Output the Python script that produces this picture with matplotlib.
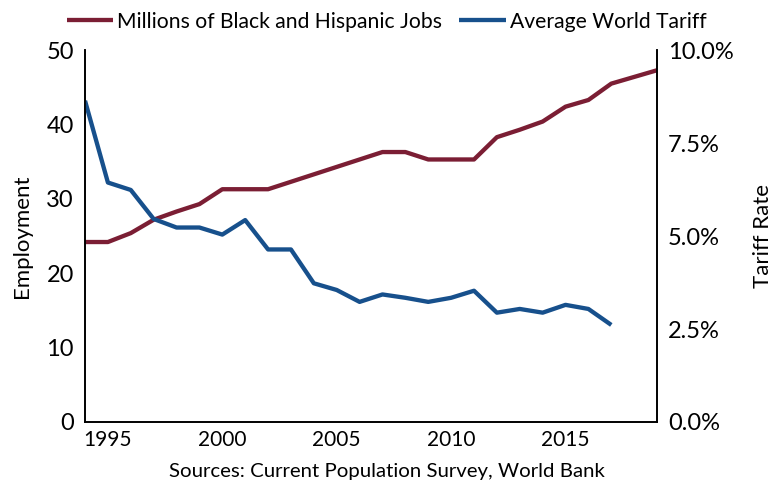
import matplotlib.pyplot as plt
import numpy as np

plt.rcParams['font.family'] = ['Lato', 'DejaVu Sans']

years = np.arange(1994, 2020)
# millions of jobs
jobs = [24.2, 24.2, 25.4, 27.2, 28.3, 29.3, 31.3, 31.3, 31.3, 32.3, 33.3, 34.3, 35.3,
        36.3, 36.3, 35.3, 35.3, 35.3, 38.3, 39.3, 40.4, 42.4, 43.3, 45.5, 46.4, 47.3]
# average world tariff, percent (1994-2017)
tariff_years = np.arange(1994, 2018)
tariff = [8.64, 6.44, 6.24, 5.46, 5.23, 5.23, 5.04, 5.43, 4.64, 4.64, 3.73, 3.55,
          3.23, 3.43, 3.34, 3.23, 3.34, 3.53, 2.94, 3.04, 2.94, 3.15, 3.04, 2.61]

red = '#7b1e34'
blue = '#17508c'

fig = plt.figure(figsize=(7.73, 4.87), dpi=100)
ax = fig.add_axes([0.11, 0.1335, 0.74, 0.7635])
ax2 = ax.twinx()

l1, = ax.plot(years, jobs, color=red, lw=3.1, solid_capstyle='butt',
              label='Millions of Black and Hispanic Jobs')
l2, = ax2.plot(tariff_years, tariff, color=blue, lw=3.1, solid_capstyle='butt',
               label='Average World Tariff')

ax.set_xlim(1994, 2019)
ax.set_ylim(0, 50)
ax2.set_ylim(0, 10)
ax.set_xticks([1995, 2000, 2005, 2010, 2015])
ax.set_yticks(range(0, 51, 10))
ax2.set_yticks([0, 2.5, 5, 7.5, 10])
ax2.set_yticklabels(['0.0%', '2.5%', '5.0%', '7.5%', '10.0%'])

for a in (ax, ax2):
    a.spines['top'].set_visible(False)
    a.tick_params(length=0, labelsize=17, pad=8)
    for s in a.spines.values():
        s.set_linewidth(1.2)
ax.tick_params(axis='x', labelsize=15, pad=6)

ax.set_ylabel('Employment', fontsize=16, labelpad=10)
ax2.set_ylabel('Tariff Rate', fontsize=16, labelpad=14)

fig.legend(handles=[l1, l2], loc='upper center', bbox_to_anchor=(0.5, 1.015),
           ncol=2, frameon=False, fontsize=15.2, handlelength=2.2,
           handletextpad=0.2, columnspacing=0.8)

fig.text(0.5, 0.02, 'Sources: Current Population Survey, World Bank',
         ha='center', fontsize=14.7)

fig.savefig('out.png', dpi=100)
